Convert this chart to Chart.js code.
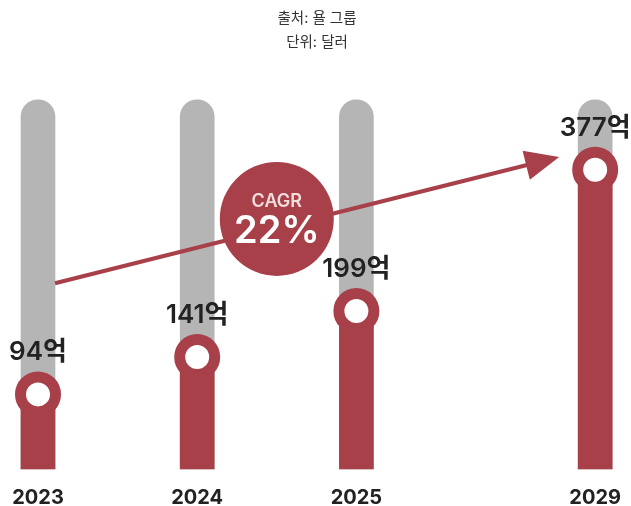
<!DOCTYPE html>
<html lang="ko">
<head>
<meta charset="utf-8">
<script src="https://cdn.jsdelivr.net/npm/chart.js@4"></script>
<style>
  html, body { margin: 0; padding: 0; background: #fff; }
  #wrap { width: 631px; height: 506px; }
</style>
</head>
<body>
<div id="wrap"><canvas id="chart"></canvas></div>
<script>
// 연도 슬롯: 빈 칸은 2025 → 2029 사이 간격용
const years = ["2023", "", "2024", "", "2025", "", "", "2029"];
const revenue = [94, null, 141, null, 199, null, null, 377]; // 단위: 억 달러
const trackMax = 465;
const track = revenue.map(v => (v == null ? null : trackMax));
const cagrText = "22%";

const RED = "#a8404a";
const GRAY = "#b4b5b4";
const FONT = "Inter, 'Noto Sans CJK KR', sans-serif";

// 화살표 + CAGR 배지 + 값 라벨
const overlay = {
  id: "overlay",
  afterDatasetsDraw(chart) {
    const { ctx } = chart;
    const x = chart.scales.x, y = chart.scales.y;

    // 성장 화살표 (2023 막대 오른쪽 → 2029 앞)
    const x0 = x.getPixelForValue(0) + 17, y0 = y.getPixelForValue(234);
    const x1 = x.getPixelForValue(7) - 36, y1 = y.getPixelForValue(393);
    const ang = Math.atan2(y1 - y0, x1 - x0);
    const headLen = 34, headW = 15;
    const bx = x1 - Math.cos(ang) * headLen, by = y1 - Math.sin(ang) * headLen;
    ctx.save();
    ctx.strokeStyle = RED;
    ctx.fillStyle = RED;
    ctx.lineWidth = 4;
    ctx.beginPath();
    ctx.moveTo(x0, y0);
    ctx.lineTo(bx + Math.cos(ang) * 4, by + Math.sin(ang) * 4);
    ctx.stroke();
    ctx.beginPath();
    ctx.moveTo(x1, y1);
    ctx.lineTo(bx - Math.sin(ang) * headW, by + Math.cos(ang) * headW);
    ctx.lineTo(bx + Math.sin(ang) * headW, by - Math.cos(ang) * headW);
    ctx.closePath();
    ctx.fill();

    // CAGR 배지
    const cx = x.getPixelForValue(3), cy = y.getPixelForValue(315);
    ctx.beginPath();
    ctx.arc(cx, cy, 57, 0, Math.PI * 2);
    ctx.fill();
    ctx.textAlign = "center";
    ctx.textBaseline = "middle";
    ctx.fillStyle = "#f3dede";
    ctx.font = `600 18px ${FONT}`;
    ctx.fillText("CAGR", cx, cy - 17);
    ctx.fillStyle = "#fff";
    ctx.font = `600 38px ${FONT}`;
    ctx.fillText(cagrText, cx, cy + 13);

    // 값 라벨
    ctx.fillStyle = "#222";
    ctx.font = `600 26px ${FONT}`;
    revenue.forEach((v, i) => {
      if (v == null) return;
      ctx.fillText(`${v}억`, x.getPixelForValue(i), y.getPixelForValue(v) - 42);
    });
    ctx.restore();
  }
};

new Chart(document.getElementById("chart"), {
  type: "bar",
  data: {
    labels: years,
    datasets: [
      {
        type: "line",
        data: revenue,
        showLine: false,
        pointRadius: 17.5,
        pointHoverRadius: 17.5,
        pointBorderWidth: 11,
        pointBackgroundColor: "#fff",
        pointBorderColor: RED,
        clip: false,
        order: 0
      },
      {
        data: revenue,
        backgroundColor: RED,
        barThickness: 34,
        grouped: false,
        clip: false,
        order: 1
      },
      {
        data: track,
        backgroundColor: GRAY,
        barThickness: 34,
        grouped: false,
        borderSkipped: "bottom",
        borderRadius: { topLeft: 17, topRight: 17, bottomLeft: 0, bottomRight: 0 },
        clip: false,
        order: 2
      }
    ]
  },
  options: {
    responsive: true,
    maintainAspectRatio: false,
    animation: false,
    layout: { padding: { left: 38, right: 35, top: 0, bottom: -21 } },
    plugins: {
      legend: { display: false },
      tooltip: { enabled: false },
      title: {
        display: true,
        text: ["출처: 욜 그룹", "단위: 달러"],
        color: "#333",
        font: { family: FONT, size: 14.5, weight: "normal", lineHeight: 1.65 },
        padding: { top: 7, bottom: 45 }
      }
    },
    scales: {
      x: {
        offset: false,
        grid: { display: false, drawTicks: false },
        border: { display: false },
        ticks: {
          autoSkip: false,
          maxRotation: 0,
          padding: 10,
          color: "#222",
          font: { family: FONT, size: 20, weight: "bold", lineHeight: 1.9 }
        }
      },
      y: {
        display: false,
        min: 0,
        max: trackMax
      }
    }
  },
  plugins: [overlay]
});
</script>
</body>
</html>
